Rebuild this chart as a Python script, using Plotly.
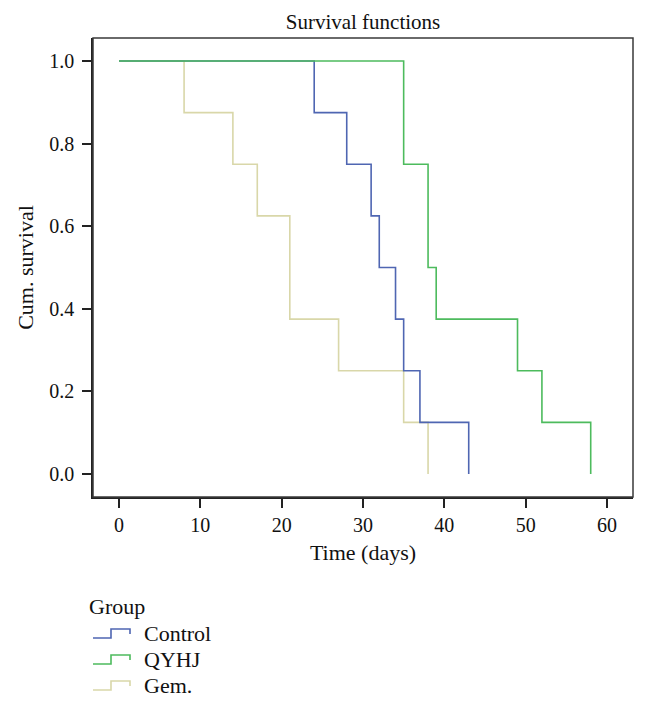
import plotly.graph_objects as go

# Data (Kaplan-Meier steps)
control_t = [0, 24, 28, 31, 32, 34, 35, 37, 43]
control_s = [1.0, 0.875, 0.75, 0.625, 0.5, 0.375, 0.25, 0.125, 0.0]
qyhj_t = [0, 35, 38, 39, 49, 52, 58]
qyhj_s = [1.0, 0.75, 0.5, 0.375, 0.25, 0.125, 0.0]
gem_t = [0, 8, 14, 17, 21, 27, 35, 38]
gem_s = [1.0, 0.875, 0.75, 0.625, 0.375, 0.25, 0.125, 0.0]

groups = ["Control", "QYHJ", "Gem."]
colors = ["#4f66b2", "#4dbb5d", "#d9d7a9"]
series = [(control_t, control_s), (qyhj_t, qyhj_s), (gem_t, gem_s)]

FONT = "Liberation Serif"
OFF = 8  # page body margin
W, H = 648 - OFF, 708 - OFF
# plot area in window pixels: left 93, right 633, top 38, bottom 497
L, R, T, B = 93 - OFF, 648 - 633, 38 - OFF, 708 - 497
PW, PH = W - L - R, H - T - B

fig = go.Figure()
for idx in [2, 0, 1]:
    t, s = series[idx]
    fig.add_trace(go.Scatter(x=t, y=s, mode="lines", line_shape="hv",
                             line=dict(color=colors[idx], width=1.6),
                             name=groups[idx], showlegend=False))

def px2paper(x, y):
    # x, y in window pixels
    return (x - OFF - L) / PW, (H - B - (y - OFF)) / PH

shapes = []
annotations = []
shapes.append(dict(type="rect", xref="paper", yref="paper", x0=0, y0=0, x1=1, y1=1,
                   line=dict(color="#3a3a3a", width=1.5), layer="above"))

gx, gy = px2paper(87, 606)
annotations.append(dict(text="Group", x=gx, y=gy, xref="paper", yref="paper",
                        xanchor="left", yanchor="middle", showarrow=False,
                        font=dict(family=FONT, size=22, color="#111")))
item_y = [633, 659, 685]
for i, g in enumerate(groups):
    cy = item_y[i]
    pts = [(93, cy + 5), (111, cy + 5), (111, cy - 4), (130, cy - 4), (130, cy + 1)]
    pp = [px2paper(x, y) for x, y in pts]
    path = "M " + " L ".join(f"{x:.5f},{y:.5f}" for x, y in pp)
    shapes.append(dict(type="path", xref="paper", yref="paper", path=path,
                       line=dict(color=colors[i], width=1.6)))
    tx, ty = px2paper(142, cy)
    annotations.append(dict(text=g, x=tx, y=ty, xref="paper", yref="paper",
                            xanchor="left", yanchor="middle", showarrow=False,
                            font=dict(family=FONT, size=22, color="#111")))

fig.update_layout(
    width=W, height=H,
    margin=dict(l=L, r=R, t=T, b=B),
    paper_bgcolor="white", plot_bgcolor="white",
    font=dict(family=FONT, size=20, color="#111"),
    title=dict(text="Survival functions", x=0.5, xref="paper", xanchor="center",
               y=1 - (22 - OFF) / H, yanchor="middle", font=dict(family=FONT, size=21)),
    shapes=shapes, annotations=annotations,
    showlegend=False,
)
fig.update_xaxes(range=[-3.2, 63.2], tickvals=[0, 10, 20, 30, 40, 50, 60],
                 ticks="outside", ticklen=9, tickwidth=1.5, tickcolor="#222",
                 showline=True, linecolor="#222", linewidth=1.5, mirror=False,
                 showgrid=False, zeroline=False,
                 title=dict(text="Time (days)", standoff=10, font=dict(size=22)),
                 tickfont=dict(size=20))
fig.update_yaxes(range=[-0.0557, 1.0557], tickvals=[0, 0.2, 0.4, 0.6, 0.8, 1.0],
                 tickformat=".1f",
                 ticks="outside", ticklen=9, tickwidth=1.5, tickcolor="#222",
                 ticklabelstandoff=4,
                 showline=True, linecolor="#222", linewidth=1.5, mirror=False,
                 showgrid=False, zeroline=False,
                 title=dict(text="Cum. survival", standoff=10, font=dict(size=22)),
                 tickfont=dict(size=20))

fig.write_html("out.html")
